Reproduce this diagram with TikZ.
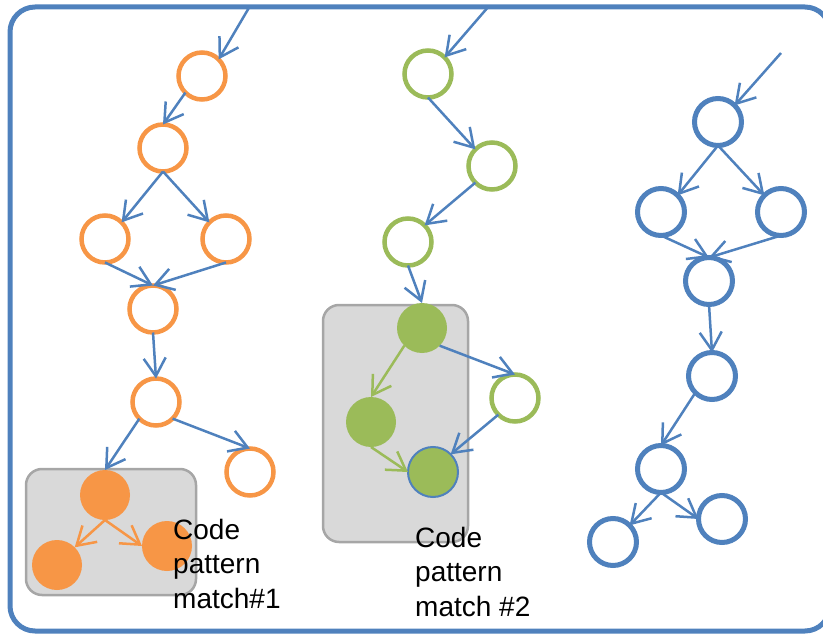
\documentclass[tikz,border=0pt]{standalone}
\usepackage{fontspec}
\setmainfont{Liberation Sans}
\usetikzlibrary{arrows.meta}
\definecolor{pptblue}{RGB}{79,129,189}
\definecolor{pptorange}{RGB}{247,150,70}
\definecolor{pptgreen}{RGB}{155,187,89}
\definecolor{boxfill}{RGB}{217,217,217}
\definecolor{boxedge}{RGB}{166,166,166}
\tikzset{
  ring/.style={circle,minimum size=47pt,inner sep=0pt,outer sep=0pt,line width=4.5pt,fill=white},
  oring/.style={ring,draw=pptorange},
  gring/.style={ring,draw=pptgreen},
  bring/.style={ring,draw=pptblue,line width=5pt},
  dot/.style={circle,minimum size=50pt,inner sep=0pt,outer sep=0pt},
  odot/.style={dot,fill=pptorange},
  gdot/.style={dot,fill=pptgreen},
  flow/.style={-{Straight Barb[length=18pt,width=22pt]},line width=2.5pt,draw=pptblue},
  oflow/.style={flow,draw=pptorange},
  gflow/.style={flow,draw=pptgreen},
  matchbox/.style={draw=boxedge,fill=boxfill,line width=2.5pt,rounded corners=16pt},
  lab/.style={font=\fontsize{28}{34.5}\selectfont,align=left,inner sep=0pt,anchor=base west}
}
\begin{document}
\begin{tikzpicture}[x=1pt,y=-1pt]
  \useasboundingbox (0,0) rectangle (823,634);
  % frame
  \draw[pptblue,line width=5pt,rounded corners=25pt] (10,7) rectangle (830,631);
  % matched areas
  \draw[matchbox] (26,469) rectangle (196,595);
  \draw[matchbox] (323,305) rectangle (468,542);
  % orange flow
  \coordinate (oin) at (250,6);
  \node[oring] (o1) at (202,76) {};
  \node[oring] (o2) at (163,148) {};
  \node[oring] (o3) at (105,239) {};
  \node[oring] (o4) at (226,239) {};
  \node[oring] (o5) at (153,309) {};
  \node[oring] (o6) at (156,402) {};
  \node[oring] (o7) at (250,472) {};
  \node[odot] (f1) at (105,495) {};
  \node[odot] (f2) at (57,565) {};
  \node[odot] (f3) at (167,546) {};
  \draw[flow] (oin) -- (o1.north east);
  \draw[flow] (o1.south west) -- (o2.north);
  \draw[flow] (o2.south) -- (o3.north east);
  \draw[flow] (o2.south) -- (o4.north west);
  \draw[flow] (o3.south) -- (o5.north);
  \draw[flow] (o4.south) -- (o5.north);
  \draw[flow] (o5.south) -- (o6.north);
  \draw[flow] (o6.south west) -- (f1.north);
  \draw[flow] (o6.south east) -- (o7.north);
  \draw[oflow] (f1.south) -- (f2.north east);
  \draw[oflow] (f1.south) -- (f3.west);
  % green flow
  \coordinate (gin) at (489,6);
  \node[gring] (g1) at (428,74) {};
  \node[gring] (g2) at (492,166) {};
  \node[gring] (g3) at (408,242) {};
  \node[gdot] (h1) at (422,328) {};
  \node[gring] (g4) at (515,398) {};
  \node[gdot] (h2) at (371,422) {};
  \node[gdot,draw=pptblue,line width=2pt] (h3) at (433,472) {};
  \draw[flow] (gin) -- (g1.north east);
  \draw[flow] (g1.south) -- (g2.north west);
  \draw[flow] (g2.south west) -- (g3.north east);
  \draw[flow] (g3.south) -- (h1.north);
  \draw[gflow] (h1.south west) -- (h2.north);
  \draw[flow] (h1.south east) -- (g4.north);
  \draw[gflow] (h2.south) -- (h3.west);
  \draw[flow] (g4.south west) -- (h3.north east);
  % blue flow
  \coordinate (bin) at (781,53);
  \node[bring] (b1) at (718,122) {};
  \node[bring] (b2) at (661,212) {};
  \node[bring] (b3) at (781,212) {};
  \node[bring] (b4) at (709,281) {};
  \node[bring] (b5) at (712,376) {};
  \node[bring] (b6) at (661,469) {};
  \node[bring] (b7) at (613,542) {};
  \node[bring] (b8) at (722,519) {};
  \draw[flow] (bin) -- (b1.north east);
  \draw[flow] (b1.south) -- (b2.north east);
  \draw[flow] (b1.south) -- (b3.north west);
  \draw[flow] (b2.south) -- (b4.north);
  \draw[flow] (b3.south) -- (b4.north);
  \draw[flow] (b4.south) -- (b5.north);
  \draw[flow] (b5.south west) -- (b6.north);
  \draw[flow] (b6.south) -- (b7.north east);
  \draw[flow] (b6.south) -- (b8.west);
  % labels
  \node[lab] (lbl1) at (173,608) {Code\\pattern\\match\#1};
  \node[lab] (lbl2) at (415,616) {Code\\pattern\\match \#2};
\end{tikzpicture}
\end{document}
